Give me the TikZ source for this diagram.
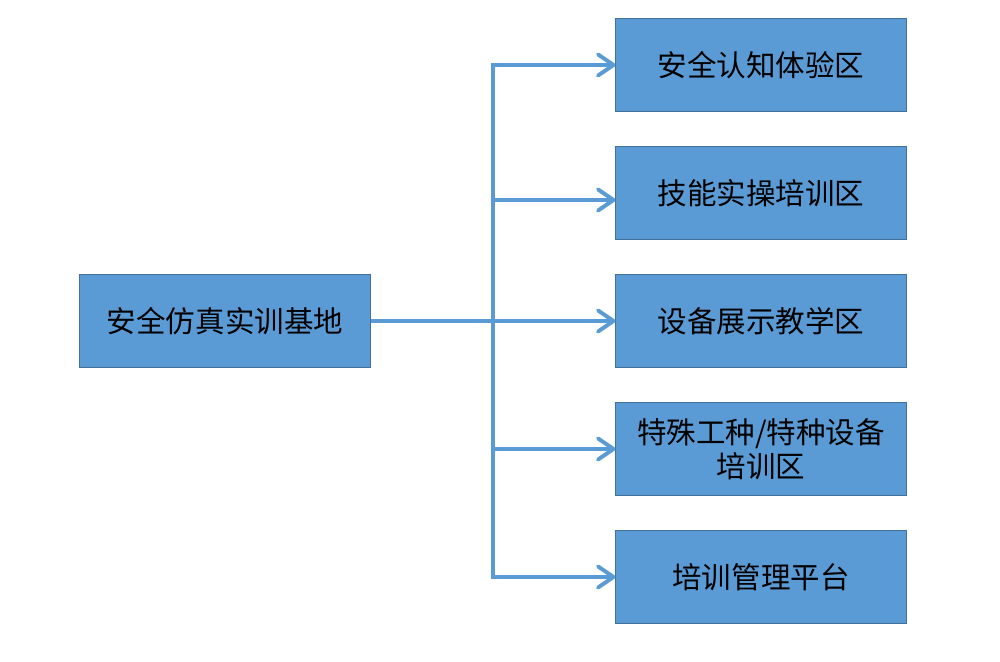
\documentclass[tikz,border=0pt]{standalone}
\usepackage{fontspec}
\usepackage{xcolor}
\usepackage{tikz}
\usetikzlibrary{positioning,arrows.meta,calc}
\newfontfamily\cjk{Noto Sans CJK SC}
\definecolor{boxfill}{HTML}{5B9BD5}
\definecolor{boxline}{HTML}{41719C}
\definecolor{linkblue}{HTML}{5B9BD5}
\tikzset{
  zone/.style={draw=boxline,fill=boxfill,line width=0.7pt,minimum width=7.25cm,minimum height=2.3cm,
    align=center,inner sep=2pt,font=\cjk\fontsize{21}{24}\selectfont,text=black},
  link/.style={draw=linkblue,line width=2.8pt},
  flow/.style={link,-{Straight Barb[length=11pt,width=15pt,line cap=round,line join=round]}},
}
\begin{document}
\begin{tikzpicture}[x=0.025cm,y=-0.025cm]
\useasboundingbox (0,0) rectangle (1000,662);

% ==== root (left) ====
\node[zone] (base) at (225,321) {安全仿真实训基地};

% ==== areas (right column, centre x = 761) ====
\node[zone] (z1) at (761,65)  {安全认知体验区};
\node[zone] (z2) at (761,193) {技能实操培训区};
\node[zone] (z3) at (761,321) {设备展示教学区};
\node[zone] (z4) at (761,449) {特殊工种/特种设备\\培训区};
\node[zone] (z5) at (761,577) {培训管理平台};

% ==== trunk ====
\coordinate (trunk) at (493,321);
\draw[link,line cap=rect] (trunk |- z1.west) -- (trunk |- z5.west);
\draw[flow] (base.east) -- (z3.west);

% ==== branches ====
\draw[flow] (trunk |- z1.west) -- (z1.west);
\draw[flow] ([yshift=-7*0.025cm]trunk |- z2.west) -- ([yshift=-7*0.025cm]z2.west);
\draw[flow] (trunk |- z4.west) -- (z4.west);
\draw[flow] (trunk |- z5.west) -- (z5.west);

\end{tikzpicture}
\end{document}
